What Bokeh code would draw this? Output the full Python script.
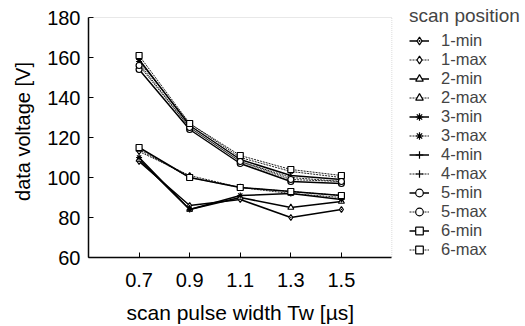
from bokeh.plotting import figure
from bokeh.models import FixedTicker, Range1d, Legend, LegendItem, BoxAnnotation
from bokeh.embed import file_html
from bokeh.resources import INLINE

# ---- data ----
pulse_width = [0.7, 0.9, 1.1, 1.3, 1.5]
x_ticks = [0.7, 0.9, 1.1, 1.3, 1.5]
y_ticks = [60, 80, 100, 120, 140, 160, 180]

series_names = ["1-min", "1-max", "2-min", "2-max", "3-min", "3-max",
                "4-min", "4-max", "5-min", "5-max", "6-min", "6-max"]
v_1min = [108, 86, 89, 80, 84]
v_1max = [113, 101, 95, 93, 91]
v_2min = [109, 84, 90, 85, 88]
v_2max = [114, 100, 95, 92, 90]
v_3min = [110, 84, 91, 92, 89]
v_3max = [158, 127, 110, 103, 100]
v_4min = [159, 126, 109, 101, 99]
v_4max = [157, 125, 108, 100, 98]
v_5min = [154, 124, 107, 98, 97]
v_5max = [156, 125, 108, 99, 98]
v_6min = [115, 100, 95, 93, 91]
v_6max = [161, 127, 111, 104, 101]
series_values = [v_1min, v_1max, v_2min, v_2max, v_3min, v_3max,
                 v_4min, v_4max, v_5min, v_5max, v_6min, v_6max]
markers = ["diamond_dot", "diamond", "triangle", "triangle", "asterisk", "asterisk",
           "cross", "cross", "circle", "circle", "square", "square"]

X_MIN, X_MAX = 0.5, 1.7
Y_MIN, Y_MAX = 60, 180
FONT = "Liberation Sans"

p = figure(frame_width=304, frame_height=252, output_backend="svg", toolbar_location=None,
           x_range=Range1d(X_MIN, 1.702), y_range=Range1d(Y_MIN, 186),
           min_border_left=88, min_border_right=133, min_border_top=5,
           min_border_bottom=69)
p.background_fill_color = "white"
p.border_fill_color = "white"
p.grid.visible = False
p.outline_line_color = None

# dotted plot-area border (top and right visible; left/bottom under axes)
p.add_layout(BoxAnnotation(left=X_MIN, right=X_MAX, bottom=Y_MIN, top=Y_MAX,
                           fill_alpha=0, line_color="#666666", line_dash="1 1",
                           line_width=1))

for ax, ticks in ((p.xaxis, x_ticks), (p.yaxis, y_ticks)):
    ax.ticker = FixedTicker(ticks=ticks)
    ax.major_tick_in = 5
    ax.major_tick_out = 0
    ax.minor_tick_line_color = None
    ax.axis_line_color = "black"
    ax.axis_line_width = 1.5
    ax.major_tick_line_color = "black"
    ax.major_label_text_font = FONT
    ax.major_label_text_font_size = "20px"
    ax.major_label_text_color = "black"
    ax.axis_label_text_font = FONT
    ax.axis_label_text_font_style = "normal"
    ax.axis_label_text_color = "black"

p.xaxis.bounds = (X_MIN, X_MAX)
p.yaxis.bounds = (Y_MIN, Y_MAX)
p.xaxis.axis_label_text_font_size = "21px"
p.yaxis.axis_label_text_font_size = "20px"
p.xaxis.major_label_standoff = 15
p.xaxis.axis_label_standoff = 11
p.yaxis.major_label_standoff = 8
p.yaxis.axis_label_standoff = 10
p.xaxis.axis_label = "scan pulse width Tw [µs]"
p.yaxis.axis_label = "data voltage [V]"

items = []
for name, vals, mk in zip(series_names, series_values, markers):
    is_max = name.endswith("max")
    r_line = p.line(pulse_width, vals, line_color="#222222" if is_max else "black",
                    line_width=1 if is_max else 1.5,
                    line_dash="2 1" if is_max else "solid")
    r_pts = p.scatter(pulse_width, vals, marker=mk, size=6,
                      line_color="black", line_width=1.2, fill_color="white")
    items.append(LegendItem(label=name, renderers=[r_line, r_pts]))

legend = Legend(items=items, location=(17, -2), title="scan position",
                title_text_font=FONT, title_text_font_size="19px",
                title_text_font_style="normal", title_standoff=4,
                label_text_font=FONT, label_text_font_size="16.5px",
                glyph_width=20, glyph_height=19, label_height=19,
                label_standoff=12, spacing=0, padding=0, margin=0,
                border_line_color=None, background_fill_alpha=0)
p.add_layout(legend, "right")

open("out.html", "w").write(file_html(p, INLINE))
